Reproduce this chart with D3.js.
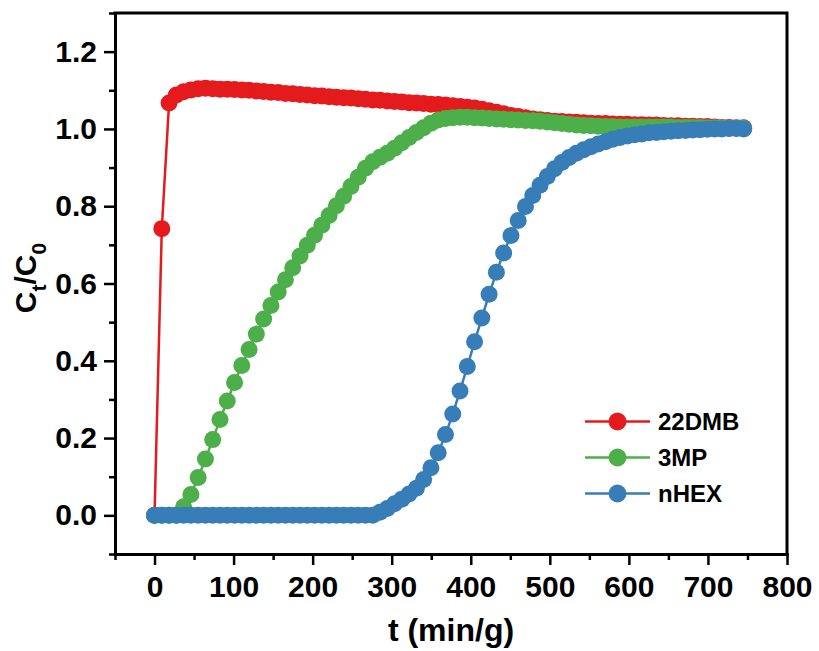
<!DOCTYPE html>
<html>
<head>
<meta charset="utf-8">
<script src="https://cdn.jsdelivr.net/npm/d3@7"></script>
<style>
  html, body { margin: 0; padding: 0; background: #fff; }
  svg { display: block; }
  text { font-family: "Liberation Sans", Arial, sans-serif; font-weight: bold; fill: #000; }
</style>
</head>
<body>
<svg id="chart" width="819" height="651"></svg>
<script>
// Sampling times (min/g)
const times = [0, 9.2, 18.4, 27.6, 36.8, 46, 55.2, 64.4, 73.6, 82.8,
  92, 101.2, 110.4, 119.6, 128.8, 138, 147.2, 156.4, 165.6, 174.8,
  184, 193.2, 202.4, 211.6, 220.8, 230, 239.2, 248.4, 257.6, 266.8,
  276, 285.2, 294.4, 303.6, 312.8, 322, 331.2, 340.4, 349.6, 358.8,
  368, 377.2, 386.4, 395.6, 404.8, 414, 423.2, 432.4, 441.6, 450.8,
  460, 469.2, 478.4, 487.6, 496.8, 506, 515.2, 524.4, 533.6, 542.8,
  552, 561.2, 570.4, 579.6, 588.8, 598, 607.2, 616.4, 625.6, 634.8,
  644, 653.2, 662.4, 671.6, 680.8, 690, 699.2, 708.4, 717.6, 726.8,
  736, 745.2];

// Ct/C0 for 2,2-dimethylbutane
const dmb22 = [0, 0.742, 1.067, 1.088, 1.096, 1.101, 1.104, 1.105, 1.104, 1.103,
  1.103, 1.102, 1.101, 1.100, 1.098, 1.097, 1.095, 1.094, 1.092, 1.091,
  1.089, 1.088, 1.086, 1.085, 1.083, 1.082, 1.081, 1.080, 1.078, 1.077,
  1.075, 1.074, 1.072, 1.071, 1.070, 1.068, 1.067, 1.066, 1.064, 1.063,
  1.062, 1.060, 1.058, 1.056, 1.054, 1.051, 1.047, 1.043, 1.039, 1.035,
  1.032, 1.029, 1.026, 1.024, 1.022, 1.020, 1.019, 1.018, 1.017, 1.016,
  1.015, 1.014, 1.014, 1.013, 1.012, 1.012, 1.011, 1.011, 1.010, 1.010,
  1.009, 1.008, 1.008, 1.007, 1.007, 1.006, 1.006, 1.005, 1.004, 1.004,
  1.003, 1.003];

// Ct/C0 for 3-methylpentane
const mp3 = [0, 0, 0, 0, 0.022, 0.054, 0.098, 0.146, 0.196, 0.248,
  0.296, 0.344, 0.388, 0.429, 0.469, 0.508, 0.543, 0.578, 0.610, 0.641,
  0.671, 0.699, 0.725, 0.751, 0.776, 0.801, 0.826, 0.851, 0.875, 0.898,
  0.915, 0.927, 0.937, 0.950, 0.964, 0.978, 0.991, 1.003, 1.015, 1.023,
  1.027, 1.029, 1.030, 1.030, 1.029, 1.028, 1.027, 1.026, 1.025, 1.024,
  1.023, 1.022, 1.021, 1.020, 1.018, 1.016, 1.014, 1.012, 1.010, 1.009,
  1.008, 1.007, 1.006, 1.006, 1.005, 1.005, 1.005, 1.005, 1.005, 1.005,
  1.005, 1.005, 1.004, 1.004, 1.004, 1.004, 1.003, 1.003, 1.003, 1.002,
  1.002, 1.002];

// Ct/C0 for n-hexane
const nhex = [0, 0, 0, 0, 0, 0, 0, 0, 0, 0,
  0, 0, 0, 0, 0, 0, 0, 0, 0, 0,
  0, 0, 0, 0, 0, 0, 0, 0, 0, 0,
  0, 0.008, 0.018, 0.030, 0.042, 0.055, 0.070, 0.093, 0.123, 0.162,
  0.209, 0.262, 0.322, 0.385, 0.449, 0.511, 0.572, 0.629, 0.679, 0.724,
  0.763, 0.799, 0.828, 0.854, 0.877, 0.897, 0.913, 0.926, 0.937, 0.946,
  0.954, 0.961, 0.967, 0.973, 0.978, 0.982, 0.985, 0.987, 0.990, 0.991,
  0.993, 0.994, 0.995, 0.996, 0.997, 0.998, 0.999, 1.000, 1.000, 1.001,
  1.001, 1.000];

const seriesNames = ["22DMB", "3MP", "nHEX"];
const seriesValues = [dmb22, mp3, nhex];
const seriesColors = ["#E41A1C", "#4DAF4A", "#377EB8"];

const xMajorTicks = [0, 100, 200, 300, 400, 500, 600, 700, 800];
const xMinorTicks = [-50, 50, 150, 250, 350, 450, 550, 650, 750];
const yMajorTicks = [0.0, 0.2, 0.4, 0.6, 0.8, 1.0, 1.2];
const yMinorTicks = [-0.1, 0.1, 0.3, 0.5, 0.7, 0.9, 1.1, 1.3];

const svg = d3.select("#chart");
const plot = { left: 115, top: 13, right: 787, bottom: 554 };

const x = d3.scaleLinear().domain([-50, 800]).range([plot.left, plot.right]);
const y = d3.scaleLinear().domain([-0.1, 1.3]).range([plot.bottom, plot.top]);

// Series: connecting line under filled circle markers
const line = d3.line().x(d => x(d[0])).y(d => y(d[1]));
seriesValues.forEach((vals, k) => {
  const pts = times.map((t, i) => [t, vals[i]]);
  const g = svg.append("g");
  g.append("path")
    .attr("d", line(pts))
    .attr("fill", "none")
    .attr("stroke", seriesColors[k])
    .attr("stroke-width", 2.5);
  g.selectAll("circle")
    .data(pts)
    .join("circle")
    .attr("cx", d => x(d[0]))
    .attr("cy", d => y(d[1]))
    .attr("r", 8.5)
    .attr("fill", seriesColors[k]);
});

// Frame (top and right edges)
svg.append("path")
  .attr("d", `M${plot.left},${plot.top}H${plot.right}V${plot.bottom}`)
  .attr("fill", "none")
  .attr("stroke", "#000")
  .attr("stroke-width", 3)
  .attr("stroke-linecap", "square");

function styleAxis(g) {
  g.select(".domain").attr("stroke-width", 3).attr("stroke-linecap", "square");
  g.selectAll(".tick line").attr("stroke-width", 2.5);
  g.selectAll(".tick text")
    .attr("font-size", 30)
    .attr("font-family", "'Liberation Sans', Arial, sans-serif")
    .attr("font-weight", "bold");
}

// Minor ticks
svg.append("g")
  .attr("transform", `translate(0,${plot.bottom})`)
  .call(d3.axisBottom(x).tickValues(xMinorTicks).tickSize(6).tickFormat(""))
  .call(g => g.select(".domain").remove())
  .call(g => g.selectAll(".tick line").attr("stroke-width", 2.5));
svg.append("g")
  .attr("transform", `translate(${plot.left},0)`)
  .call(d3.axisLeft(y).tickValues(yMinorTicks).tickSize(6).tickFormat(""))
  .call(g => g.select(".domain").remove())
  .call(g => g.selectAll(".tick line").attr("stroke-width", 2.5));

// Major axes
svg.append("g")
  .attr("transform", `translate(0,${plot.bottom})`)
  .call(d3.axisBottom(x).tickValues(xMajorTicks).tickSize(11).tickSizeOuter(0).tickPadding(11).tickFormat(d3.format("d")))
  .call(styleAxis);
svg.append("g")
  .attr("transform", `translate(${plot.left},0)`)
  .call(d3.axisLeft(y).tickValues(yMajorTicks).tickSize(11).tickSizeOuter(0).tickPadding(7).tickFormat(d3.format(".1f")))
  .call(styleAxis);

// Axis titles
svg.append("text")
  .attr("x", (plot.left + plot.right) / 2)
  .attr("y", 641)
  .attr("text-anchor", "middle")
  .attr("font-size", 32)
  .text("t (min/g)");

const yTitle = svg.append("text")
  .attr("transform", "translate(36,278) rotate(-90)")
  .attr("text-anchor", "middle")
  .attr("font-size", 30);
yTitle.append("tspan").text("C");
yTitle.append("tspan").attr("font-size", 21).attr("dy", 10).text("t");
yTitle.append("tspan").attr("dy", -10).text("/C");
yTitle.append("tspan").attr("font-size", 21).attr("dy", 10).text("0");

// Legend
const legend = svg.append("g");
seriesNames.forEach((name, k) => {
  const ly = 421.5 + k * 36;
  legend.append("line")
    .attr("x1", 585).attr("x2", 650)
    .attr("y1", ly).attr("y2", ly)
    .attr("stroke", seriesColors[k])
    .attr("stroke-width", 2.5);
  legend.append("circle")
    .attr("cx", 617.5).attr("cy", ly)
    .attr("r", 9)
    .attr("fill", seriesColors[k]);
  legend.append("text")
    .attr("x", 658).attr("y", ly)
    .attr("dy", "0.36em")
    .attr("font-size", 24)
    .text(name);
});
</script>
</body>
</html>
